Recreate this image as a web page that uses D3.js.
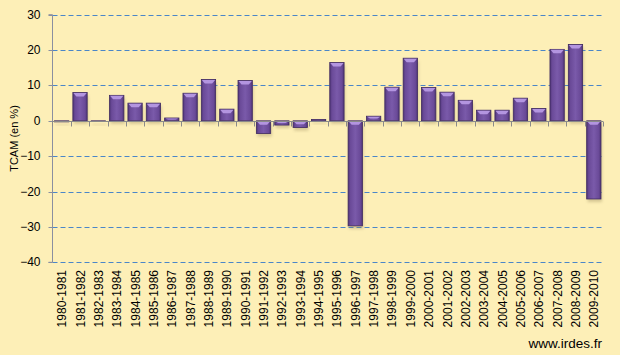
<!DOCTYPE html>
<html><head><meta charset="utf-8">
<script src="https://cdn.jsdelivr.net/npm/d3@7"></script>
<style>html,body{margin:0;padding:0;background:#FDEFB7;}svg{display:block;}</style>
</head><body>
<script>
const categories = ["1980-1981","1981-1982","1982-1983","1983-1984","1984-1985","1985-1986","1986-1987","1987-1988","1988-1989","1989-1990","1990-1991","1991-1992","1992-1993","1993-1994","1994-1995","1995-1996","1996-1997","1997-1998","1998-1999","1999-2000","2000-2001","2001-2002","2002-2003","2003-2004","2004-2005","2005-2006","2006-2007","2007-2008","2008-2009","2009-2010"];
const values = [-0.3,8.0,-0.2,7.2,5.0,5.0,0.8,7.8,11.7,3.3,11.4,-3.6,-1.2,-1.9,0.4,16.5,-29.7,1.3,9.5,17.7,9.4,8.1,5.8,3.0,3.0,6.4,3.5,20.2,21.6,-22.1];
const yTicks = [30,20,10,0,-10,-20,-30,-40];
const yLabel = "TCAM (en %)";
const credit = "www.irdes.fr";

const W = 620, H = 355;
const svg = d3.select("body").append("svg").attr("width", W).attr("height", H);
svg.append("rect").attr("width", W).attr("height", H).attr("fill", "#FDEFB7");

const defs = svg.append("defs");
const g1 = defs.append("linearGradient").attr("id","barGrad").attr("x1","0").attr("x2","1").attr("y1","0").attr("y2","0");
g1.append("stop").attr("offset","0").attr("stop-color","#4f3577");
g1.append("stop").attr("offset","0.15").attr("stop-color","#6a4a98");
g1.append("stop").attr("offset","0.5").attr("stop-color","#7a5aaa");
g1.append("stop").attr("offset","0.85").attr("stop-color","#6a4a98");
g1.append("stop").attr("offset","1").attr("stop-color","#4f3577");
const f = defs.append("filter").attr("id","shadow").attr("x","-30%").attr("y","-30%").attr("width","160%").attr("height","160%");
f.append("feGaussianBlur").attr("stdDeviation", 1.5);

const x = d3.scaleBand().domain(categories).range([52.5, 603]).paddingInner(0.22).paddingOuter(0.11);
const y = d3.scaleLinear().domain([-40, 30]).range([262.3, 14.7]);

// gridlines
svg.append("g").selectAll("line").data(yTicks.filter(d => d !== 0)).join("line")
  .attr("x1", 52.5).attr("x2", 603)
  .attr("y1", d => Math.round(y(d)) + 0.5).attr("y2", d => Math.round(y(d)) + 0.5)
  .attr("stroke", "#4a86c8").attr("stroke-width", 1).attr("stroke-dasharray", "5,3");

// y axis
const yAxis = d3.axisLeft(y).tickValues(yTicks).tickSize(4).tickPadding(8);
const ya = svg.append("g").attr("transform", "translate(52.5,0)").call(yAxis);
ya.select(".domain").attr("stroke", "#8a8fa0").attr("d", `M-4,${y(30)}H0V${y(-40)}H-4`);
ya.selectAll(".tick line").attr("stroke", "#8a8fa0");
ya.selectAll(".tick text").attr("font-family", "Liberation Sans, Arial, sans-serif").attr("font-size", 12).attr("fill", "#000");
ya.selectAll(".tick").attr("transform", d => `translate(0,${Math.round(y(d)) + 0.5})`);

// shadows
const bw = x.bandwidth();
svg.append("g").selectAll("rect").data(values).join("rect")
  .attr("x", (d, i) => x(categories[i]) + 1)
  .attr("y", d => Math.min(y(d), y(0)) + 3)
  .attr("width", bw)
  .attr("height", d => Math.max(1, Math.abs(y(d) - y(0))))
  .attr("fill", "#8a7a50").attr("opacity", 0.35).attr("filter", "url(#shadow)");

// bars
const bars = svg.append("g").selectAll("g").data(values).join("g");
bars.append("rect")
  .attr("x", (d, i) => x(categories[i]))
  .attr("y", d => Math.min(y(d), y(0)))
  .attr("width", bw)
  .attr("height", d => Math.max(0.8, Math.abs(y(d) - y(0))))
  .attr("fill", "url(#barGrad)")
  .attr("stroke", "#3f2a60").attr("stroke-width", 0.8);
// top bevel
bars.append("path")
  .attr("d", (d, i) => {
    const x0 = x(categories[i]), top = Math.min(y(d), y(0));
    const h = Math.min(4, Math.abs(y(d) - y(0)) / 2);
    if (h < 1) return "";
    return `M${x0+0.5},${top+0.5}H${x0+bw-0.5}L${x0+bw-3.5},${top+h}H${x0+3.5}Z`;
  })
  .attr("fill", "#b395e0");

// zero axis
const xa = svg.append("g").attr("transform", `translate(0,${Math.round(y(0)) + 0.5})`);
xa.append("line").attr("x1", 52.5).attr("x2", 603).attr("stroke", "#8a8a8a").attr("stroke-width", 1.2);
const step = x.step();
const bounds = d3.range(categories.length + 1).map(i => x(categories[0]) - x.paddingInner() * step / 2 + i * step);
xa.selectAll("line.tk").data(bounds).join("line").attr("class","tk")
  .attr("x1", d => Math.round(d) + 0.5).attr("x2", d => Math.round(d) + 0.5)
  .attr("y1", 0).attr("y2", 5).attr("stroke", "#8a8a8a");

// x labels
svg.append("g").selectAll("text").data(categories).join("text")
  .attr("transform", d => `translate(${x(d) + bw / 2 + 4.5},270) rotate(-90)`)
  .attr("text-anchor", "end")
  .attr("font-family", "Liberation Sans, Arial, sans-serif").attr("font-size", 12).attr("fill", "#000")
  .text(d => d);

// y label
svg.append("text").attr("transform", `translate(18,${(y(30) + y(-40)) / 2}) rotate(-90)`)
  .attr("text-anchor", "middle")
  .attr("font-family", "Liberation Sans, Arial, sans-serif").attr("font-size", 11).attr("fill", "#000")
  .text(yLabel);

// credit
svg.append("text").attr("x", 602).attr("y", 348).attr("text-anchor", "end")
  .attr("font-family", "Liberation Sans, Arial, sans-serif").attr("font-size", 13.5).attr("fill", "#000")
  .text(credit);
</script>
</body></html>
